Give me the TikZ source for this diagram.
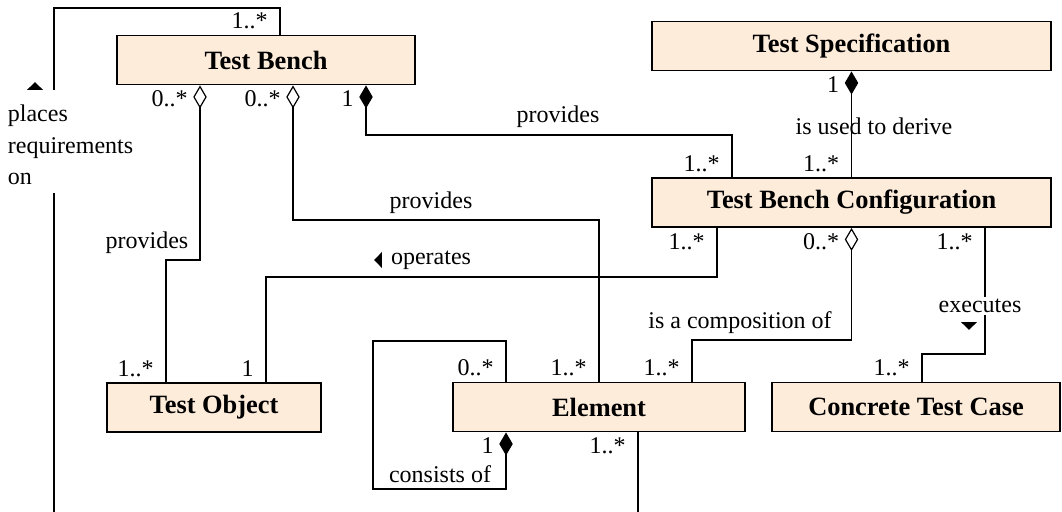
\documentclass[tikz,border=0pt]{standalone}
\usepackage{fontspec}
\setmainfont{Liberation Serif}
\usetikzlibrary{arrows.meta}
\definecolor{classfill}{RGB}{254,236,219}

\begin{document}
\begin{tikzpicture}[
  x=0.4167pt, y=-0.4167pt,
  umlclass/.style={draw, line width=0.8pt, fill=classfill, inner sep=0pt,
    minimum height=20.4pt, font=\fontsize{11}{13}\selectfont\bfseries},
  assoc/.style={draw, line width=0.5pt},
  aggr/.style={{Diamond[open,length=9.6pt,width=5.6pt]}-},
  compo/.style={{Diamond[length=9.6pt,width=5.6pt]}-},
  lbl/.style={inner sep=1pt},
  multtop/.style={anchor=south east, inner sep=2pt, xshift=-3pt},
  multbot/.style={anchor=north east, inner sep=2pt, xshift=-3pt},
  rdir/.pic={\fill (-3.3pt,-1.6pt) -- (3.3pt,-1.6pt) -- (0,1.6pt) -- cycle;}
]
\useasboundingbox (0,0) rectangle (1062,512);

% Classes
\node[umlclass, minimum width=124.2pt] (bench) at (266,60) {Test Bench};
\node[umlclass, minimum width=166.3pt] (spec) at (851.5,46) {Test Specification};
\node[umlclass, minimum width=166.3pt] (config) at (851.5,202.5) {Test Bench Configuration};
\node[umlclass, minimum width=89.2pt] (object) at (214,407.5) {Test Object};
\node[umlclass, minimum width=121.7pt] (element) at (599,407) {Element};
\node[umlclass, minimum width=120pt] (case) at (916,407) {Concrete Test Case};

% Free ends
\coordinate (reqtop) at (54,90);
\coordinate (reqbot) at (54,193);
\coordinate (reqend) at (54,512);
\coordinate (elemend) at (638,512);

% Test Bench places requirements on ...
\draw[assoc] (280,0 |- bench.north) |- (54,8) -- (reqtop);
\draw[assoc] (reqbot) -- (reqend);
\node[multtop] at (280,0 |- bench.north) {1..*};
\node[lbl, align=left, anchor=west, font=\fontsize{10}{13.2}\selectfont] (placesreq) at (5,145) {places\\requirements\\on};
\pic at (35,86) {rdir};

% Test Bench provides Test Object
\draw[assoc, aggr] (200,0 |- bench.south) |- (166,260) -- (166,0 |- object.north);
\node[multbot] at (200,0 |- bench.south) {0..*};
\node[multtop] at (166,0 |- object.north) {1..*};
\node[lbl] (prov1) at (147,243) {provides};

% Test Bench provides Element
\draw[assoc, aggr] (293,0 |- bench.south) |- (599,220) -- (element.north);
\node[multbot] at (293,0 |- bench.south) {0..*};
\node[multtop] at (element.north) {1..*};
\node[lbl] (prov2) at (431,203) {provides};

% Test Bench provides Test Bench Configuration
\draw[assoc, compo] (366,0 |- bench.south) |- (732,135) -- (732,0 |- config.north);
\node[multbot] at (366,0 |- bench.south) {1};
\node[multtop] at (732,0 |- config.north) {1..*};
\node[lbl] (prov3) at (558,117) {provides};

% Test Specification is used to derive Test Bench Configuration
\draw[assoc, compo] (spec.south) -- (config.north);
\node[multbot] at (spec.south) {1};
\node[multtop] at (config.north) {1..*};
\node[lbl] (derive) at (874,126) {is used to derive};

% Test Bench Configuration operates Test Object
\draw[assoc] (717,0 |- config.south) |- (266,277) -- (266,0 |- object.north);
\node[multbot] at (717,0 |- config.south) {1..*};
\node[multtop] at (266,0 |- object.north) {1};
\node[lbl] (operates) at (431,260) {operates};
\pic[rotate=90] at (378,260) {rdir};

% Test Bench Configuration is a composition of Element
\draw[assoc, aggr] (config.south) |- (692,340) -- (692,0 |- element.north);
\node[multbot] at (config.south) {0..*};
\node[multtop] at (692,0 |- element.north) {1..*};
\node[lbl] (compof) at (740,323) {is a composition of};

% Test Bench Configuration executes Concrete Test Case
\draw[assoc] (985,0 |- config.south) |- (922,354) -- (922,0 |- case.north);
\node[multbot] at (985,0 |- config.south) {1..*};
\node[multtop] at (922,0 |- case.north) {1..*};
\node[lbl, fill=white] (executes) at (980,306) {executes};
\pic[rotate=180] at (969,326) {rdir};

% Element consists of Element
\draw[assoc, compo] (506,0 |- element.south) -- (506,489) -| (373,341) -| (506,0 |- element.north);
\node[multbot] at (506,0 |- element.south) {1};
\node[multtop] at (506,0 |- element.north) {0..*};
\node[lbl] (consists) at (440,474) {consists of};

% Element, downwards
\draw[assoc] (638,0 |- element.south) -- (elemend);
\node[multbot] at (638,0 |- element.south) {1..*};
\end{tikzpicture}
\end{document}
